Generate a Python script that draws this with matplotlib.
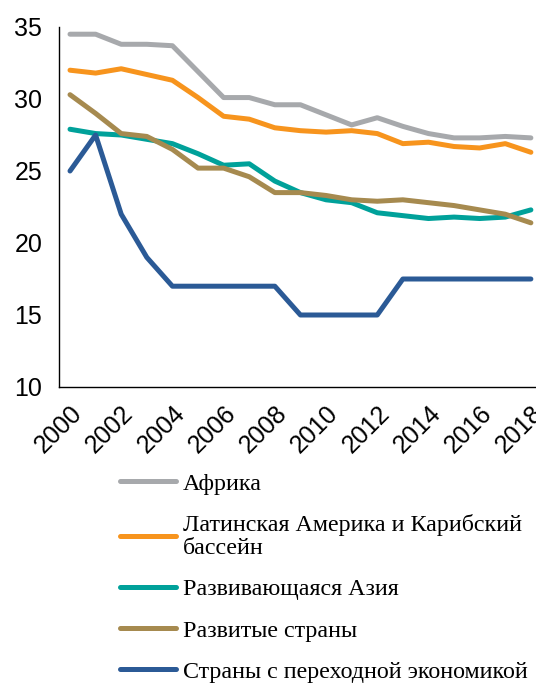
import matplotlib.pyplot as plt

years = list(range(2000, 2019))

africa = [34.5, 34.5, 33.8, 33.8, 33.7, 31.9, 30.1, 30.1, 29.6, 29.6,
          28.9, 28.2, 28.7, 28.1, 27.6, 27.3, 27.3, 27.4, 27.3]
latam = [32.0, 31.8, 32.1, 31.7, 31.3, 30.1, 28.8, 28.6, 28.0, 27.8,
         27.7, 27.8, 27.6, 26.9, 27.0, 26.7, 26.6, 26.9, 26.3]
asia = [27.9, 27.6, 27.5, 27.2, 26.9, 26.2, 25.4, 25.5, 24.3, 23.5,
        23.0, 22.8, 22.1, 21.9, 21.7, 21.8, 21.7, 21.8, 22.3]
developed = [30.3, 29.0, 27.6, 27.4, 26.5, 25.2, 25.2, 24.6, 23.5, 23.5,
             23.3, 23.0, 22.9, 23.0, 22.8, 22.6, 22.3, 22.0, 21.4]
transition = [25.0, 27.5, 22.0, 19.0, 17.0, 17.0, 17.0, 17.0, 17.0, 15.0,
              15.0, 15.0, 15.0, 17.5, 17.5, 17.5, 17.5, 17.5, 17.5]

labels = ["Африка",
          "Латинская Америка и Карибский\nбассейн",
          "Развивающаяся Азия",
          "Развитые страны",
          "Страны с переходной экономикой"]
colors = ["#A7A9AC", "#F7941D", "#00A19A", "#A68A4F", "#2B5A96"]
series = [africa, latam, asia, developed, transition]

fig = plt.figure(figsize=(5.36, 6.9), dpi=100)
ax = fig.add_axes([59 / 536, 1 - 387 / 690, 477 / 536, 360 / 690])

for vals, lab, col in zip(series, labels, colors):
    ax.plot(years, vals, color=col, lw=3.6, label=lab, solid_capstyle="round")

ax.set_xlim(1999.57, 2018.2)
ax.set_ylim(10, 35)
ax.set_yticks([10, 15, 20, 25, 30, 35])
ax.set_xticks(years[::2])
ax.tick_params(length=0, labelsize=18)
ax.tick_params(axis="y", pad=12)
ax.tick_params(axis="x", pad=10)
for t in ax.get_xticklabels():
    t.set_rotation(45)
    t.set_ha("right")
    t.set_rotation_mode("anchor")
for t in ax.get_xticklabels() + ax.get_yticklabels():
    t.set_family("Liberation Sans")
for s in ["top", "right"]:
    ax.spines[s].set_visible(False)
ax.spines["left"].set_linewidth(1.0)
ax.spines["bottom"].set_linewidth(1.0)

leg = fig.legend(loc="upper left", bbox_to_anchor=(120 / 536, 1 - 473 / 690),
                 frameon=False, borderpad=0, borderaxespad=0,
                 handlelength=2.35, handletextpad=0.28, labelspacing=0.8,
                 prop={"family": "Liberation Serif", "size": 17.3})
leg.get_texts()[1].set_linespacing(1.15)

fig.savefig("out.png", dpi=100)
